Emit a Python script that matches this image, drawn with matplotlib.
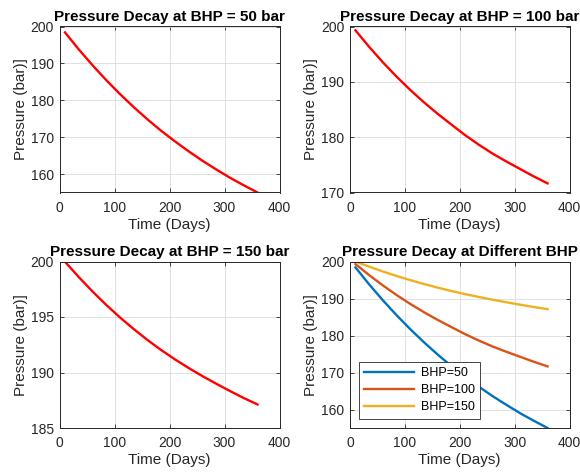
import matplotlib
matplotlib.use('Agg')
import matplotlib.pyplot as plt

# time axis (days) and pressure
days = [10, 35, 60, 85, 110, 135, 160, 185, 210, 235, 260, 285, 310, 335, 360]
p_bhp50 = [198.4, 193.8, 189.5, 185.46, 181.68, 178.14, 174.82, 171.71, 168.85,
           166.15, 163.6, 161.25, 159.0, 156.95, 155.0]
p_bhp100 = [199.3, 196.31, 193.52, 190.93, 188.52, 186.28, 184.2, 182.26, 180.35,
            178.62, 177.02, 175.6, 174.25, 172.9, 171.65]
p_bhp150 = [199.98, 198.6, 197.3, 196.09, 194.96, 193.91, 192.93, 192.02, 191.18,
            190.4, 189.67, 188.99, 188.33, 187.7, 187.12]
series_labels = ['BHP=50', 'BHP=100', 'BHP=150']

plt.rcParams['font.family'] = ['Liberation Sans', 'DejaVu Sans']
TXT = '#262626'

def style_axes(ax, ylim, yticks):
    ax.set_xlim(0, 400)
    ax.set_xticks([0, 100, 200, 300, 400])
    ax.set_ylim(*ylim)
    ax.set_yticks(yticks)
    ax.grid(True, color='#dcdcdc', linewidth=0.6)
    ax.set_axisbelow(True)
    ax.tick_params(direction='in', length=3, width=0.6, colors=TXT, labelsize=10,
                   top=True, right=True, pad=4)
    ax.tick_params(axis='x', pad=6)
    for sp in ax.spines.values():
        sp.set_color(TXT)
        sp.set_linewidth(0.7)
    ax.set_xlabel('Time (Days)', fontsize=11, color=TXT, labelpad=2)
    ax.set_ylabel('Pressure (bar)]', fontsize=11, color=TXT, labelpad=2)

fig = plt.figure(figsize=(5.8, 4.75), dpi=100)
W, H = 580, 475
def add_ax(l, t, r, b):
    return fig.add_axes([l / W, 1 - b / H, (r - l) / W, (b - t) / H])

ax1 = add_ax(59.5, 26.5, 279.5, 192.5)
ax2 = add_ax(350, 26.5, 569.5, 192.5)
ax3 = add_ax(59.5, 261.5, 279.5, 428)
ax4 = add_ax(350, 261.5, 569.5, 428)

ax1.plot(days, p_bhp50, color='red', lw=1.7)
style_axes(ax1, (155, 200), [160, 170, 180, 190, 200])
ax1.set_title('Pressure Decay at BHP = 50 bar', fontsize=11, fontweight='bold', pad=4)

ax2.plot(days, p_bhp100, color='red', lw=1.7)
style_axes(ax2, (170, 200), [170, 180, 190, 200])
ax2.set_title('Pressure Decay at BHP = 100 bar', fontsize=11, fontweight='bold', pad=4)

ax3.plot(days, p_bhp150, color='red', lw=1.7)
style_axes(ax3, (185, 200), [185, 190, 195, 200])
ax3.set_title('Pressure Decay at BHP = 150 bar', fontsize=11, fontweight='bold', pad=4)

colors = ['#0072BD', '#D95319', '#EDB120']
for ys, lab, c in zip([p_bhp50, p_bhp100, p_bhp150], series_labels, colors):
    ax4.plot(days, ys, color=c, lw=1.7, label=lab)
style_axes(ax4, (155, 200), [160, 170, 180, 190, 200])
ax4.set_title('Pressure Decay at Different BHP', fontsize=11, fontweight='bold', pad=4)
leg = ax4.legend(loc='lower left', bbox_to_anchor=(0.04, 0.055), borderaxespad=0,
                 fontsize=9, fancybox=False, framealpha=1, handlelength=4.0,
                 labelspacing=0.4, borderpad=0.45, handletextpad=0.5)
leg.get_frame().set_edgecolor(TXT)
leg.get_frame().set_linewidth(0.6)

fig.savefig('out.png', dpi=100)
